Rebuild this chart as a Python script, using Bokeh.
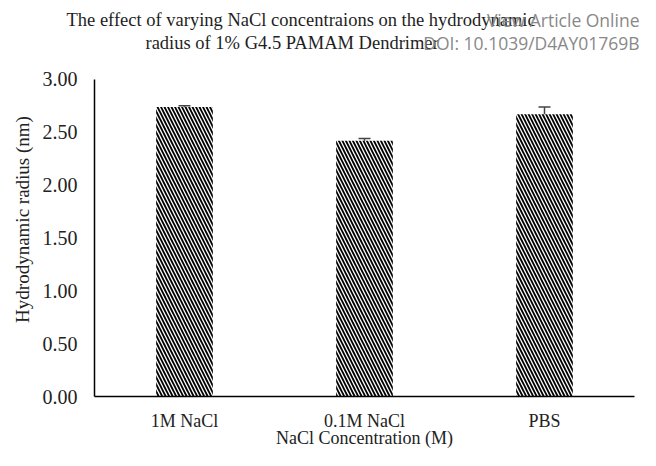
from bokeh.plotting import figure
from bokeh.models import ColumnDataSource, Whisker, TeeHead, Title, FixedTicker, NumeralTickFormatter
from bokeh.embed import file_html
from bokeh.resources import INLINE

categories = ["1M NaCl", "0.1M NaCl", "PBS"]
radius = [2.74, 2.42, 2.67]
errors = [0.01, 0.02, 0.07]
y_ticks = [0.0, 0.5, 1.0, 1.5, 2.0, 2.5, 3.0]

src = ColumnDataSource(dict(
    cat=categories, val=radius,
    lo=[v - e for v, e in zip(radius, errors)],
    hi=[v + e for v, e in zip(radius, errors)],
))

SERIF = "Liberation Serif"
W, H = 640, 450
BL, BR, BT, BB = 94, 6, 42, 53  # frame borders
Y_TOP_PX, Y_BOT_PX = 79, 397      # pixel rows of 3.0 and 0.0
y_end = 3.0 * (Y_BOT_PX - BT) / (Y_BOT_PX - Y_TOP_PX)

p = figure(x_range=categories, y_range=(0, y_end), width=W, height=H,
           output_backend="svg", toolbar_location=None,
           min_border_left=BL, min_border_right=BR, min_border_top=BT, min_border_bottom=BB)
p.outline_line_color = None
p.xgrid.visible = False
p.ygrid.visible = False
p.x_range.range_padding = 0

p.vbar(x="cat", top="val", width=0.315, source=src, fill_color="white",
       line_color=None, hatch_pattern="\\", hatch_color="black",
       hatch_scale=7, hatch_weight=1.8)

w = Whisker(base="cat", lower="lo", upper="hi", source=src, line_color="#444444", line_width=1.5,
            upper_head=TeeHead(size=12, line_color="#444444", line_width=1.5),
            lower_head=TeeHead(size=12, line_color="#444444", line_width=1.5))
p.add_layout(w)

p.yaxis.ticker = FixedTicker(ticks=y_ticks)
p.yaxis.formatter = NumeralTickFormatter(format="0.00")
p.yaxis.bounds = (0, 3.0)
for ax in (p.xaxis, p.yaxis):
    ax.major_tick_line_color = None
    ax.minor_tick_line_color = None
    ax.axis_line_color = "black"
    ax.axis_line_width = 1.5
    ax.major_label_text_font = SERIF
    ax.major_label_text_color = "#222222"
    ax.axis_label_text_font = SERIF
    ax.axis_label_text_font_style = "normal"
    ax.axis_label_text_color = "#222222"
p.yaxis.major_label_text_font_size = "20px"
p.yaxis.axis_label_text_font_size = "19px"
p.xaxis.major_label_text_font_size = "18px"
p.xaxis.axis_label_text_font_size = "18px"
p.yaxis.major_label_standoff = 11
p.xaxis.major_label_standoff = 8
p.yaxis.axis_label = "Hydrodynamic radius (nm)"
p.xaxis.axis_label = "NaCl Concentration (M)"
p.yaxis.axis_label_standoff = 7
p.xaxis.axis_label_standoff = -6

# Header rows: title lines (serif) share rows with the page watermark (sans)
title1 = "The effect of varying NaCl concentraions on the hydrodynamic"
title2 = "radius of 1% G4.5 PAMAM Dendrimer"
wm1 = "View Article Online"
wm2 = "DOI: 10.1039/D4AY01769B"

def serif_title(txt, offset, standoff, size="18.5px"):
    return Title(text=txt, align="left", offset=offset, standoff=standoff,
                 text_font=SERIF, text_font_size=size, text_font_style="normal",
                 text_color="#1e1e1e")

def wm_title(txt):
    return Title(text=txt, align="right", offset=-5, standoff=-25.0,
                 text_font="Open Sans", text_font_size="17.5px", text_font_style="normal",
                 text_color="#888888")

# panels stack upward from the plot frame
p.add_layout(serif_title(title2, 51, -21.7), "above")
p.add_layout(wm_title(wm2), "above")
p.add_layout(serif_title(" ", 0, 8.9, size="10px"), "above")
p.add_layout(serif_title(title1, -28, -21.7), "above")
p.add_layout(wm_title(wm1), "above")

open("out.html", "w").write(file_html(p, INLINE))
